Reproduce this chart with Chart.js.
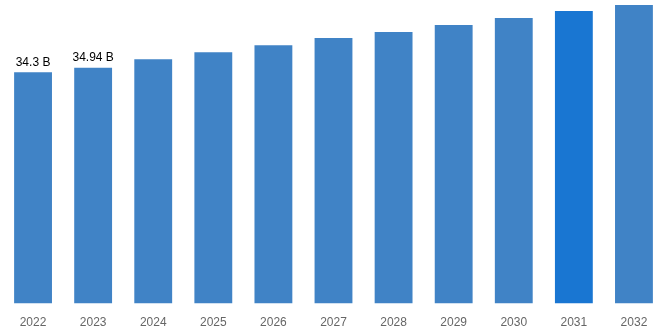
<!DOCTYPE html>
<html>
<head>
<meta charset="utf-8">
<script src="https://cdn.jsdelivr.net/npm/chart.js@4"></script>
<style>
  html, body { margin: 0; padding: 0; background: #fff; }
  #wrap { width: 668px; height: 334px; position: relative; }
</style>
</head>
<body>
<div id="wrap"><canvas id="chart"></canvas></div>
<script>
// market size by year, in billions
const years = ['2022', '2023', '2024', '2025', '2026', '2027', '2028', '2029', '2030', '2031', '2032']
const values = [34.3, 34.94, 36.23, 37.27, 38.31, 39.35, 40.24, 41.28, 42.32, 43.36, 44.25]
const labels = ['34.3 B', '34.94 B', '', '', '', '', '', '', '', '', '']

const barColor = '#4083c6'
const highlight = '#1976d2'
const colors = years.map(y => y === '2031' ? highlight : barColor)

const valueLabels = {
	id: 'valueLabels',
	afterDatasetsDraw(chart) {
		const ctx = chart.ctx
		const meta = chart.getDatasetMeta(0)
		ctx.save()
		ctx.font = '12px "Liberation Sans", Arial, sans-serif'
		ctx.fillStyle = '#000'
		ctx.textAlign = 'center'
		ctx.textBaseline = 'bottom'
		meta.data.forEach((bar, i) => {
			if (labels[i]) ctx.fillText(labels[i], bar.x, bar.y - 4)
		})
		ctx.restore()
	}
}

new Chart(document.getElementById('chart'), {
	type: 'bar',
	data: {
		labels: years,
		datasets: [{
			data: values,
			backgroundColor: colors,
			categoryPercentage: 0.63,
			barPercentage: 1.0
		}]
	},
	options: {
		responsive: true,
		maintainAspectRatio: false,
		animation: false,
		layout: { padding: { left: 3, right: 4, top: 0, bottom: 0 } },
		plugins: {
			legend: { display: false },
			tooltip: { enabled: false }
		},
		scales: {
			x: {
				grid: { display: false },
				border: { display: false },
				ticks: {
					color: '#666',
					font: { family: '"Liberation Sans", Arial, sans-serif', size: 12 },
					padding: 4
				}
			},
			y: {
				display: false,
				min: 0,
				max: 45
			}
		}
	},
	plugins: [valueLabels]
})
</script>
</body>
</html>
